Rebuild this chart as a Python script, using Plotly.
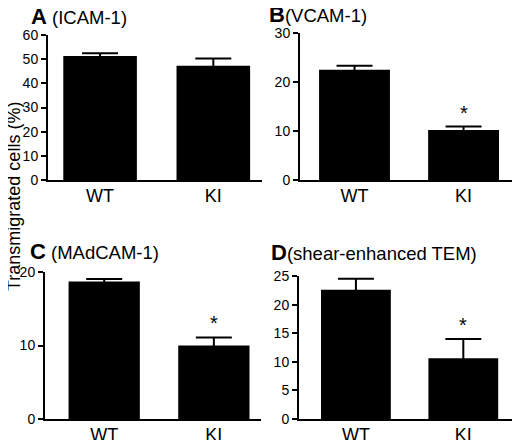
import plotly.graph_objects as go
from plotly.subplots import make_subplots

# data (mean and SEM, % transmigrated cells)
groups = ["WT", "KI"]
panels = ["A", "B", "C", "D"]
panel_names = ["(ICAM-1)", "(VCAM-1)", "(MAdCAM-1)", "(shear-enhanced TEM)"]
icam_mean = [51.3, 47.3]
icam_sem = [1.1, 3.0]
vcam_mean = [22.5, 10.2]
vcam_sem = [0.8, 0.7]
madcam_mean = [18.7, 10.0]
madcam_sem = [0.35, 1.1]
shear_mean = [22.6, 10.6]
shear_sem = [1.9, 3.4]
y_max = [60, 30, 20, 25]
y_step = [10, 10, 10, 5]
significant = [False, True, True, True]

means = [icam_mean, vcam_mean, madcam_mean, shear_mean]
sems = [icam_sem, vcam_sem, madcam_sem, shear_sem]

W, H = 520, 440
OFF = 8  # the page body has a default 8px margin
FONT = "Liberation Sans, Arial, sans-serif"


def fx(px):
    return (px - OFF) / W


def fy(py):
    return 1 - (py - OFF) / H


# panel boxes in screen pixels: (left, right, top, bottom)
boxes = [(48, 262, 35, 180), (300, 517, 33, 180),
         (45, 261, 272, 419), (299, 517, 276, 419)]
x_ranges = [[-0.46, 1.43], [-0.5, 1.49], [-0.54, 1.43], [-0.53, 1.5]]
# title positions (left x, middle y) and whether a space sits after the letter
title_pos = [(29, 16), (267, 15), (28, 251), (269, 252)]
title_space = [True, False, True, False]

fig = make_subplots(rows=2, cols=2)

for i in range(4):
    r, c = i // 2 + 1, i % 2 + 1
    fig.add_trace(go.Bar(
        x=groups, y=means[i],
        marker=dict(color="black", line=dict(width=0)),
        width=0.65,
        error_y=dict(type="data", array=sems[i], color="black",
                     thickness=2, width=18),
        showlegend=False,
    ), row=r, col=c)

    left, right, top, bottom = boxes[i]
    ax = "" if i == 0 else str(i + 1)
    fig.layout["xaxis" + ax].update(
        domain=[fx(left), fx(right)], range=x_ranges[i],
        showline=True, linecolor="black", linewidth=2,
        ticks="", showgrid=False, zeroline=False, automargin=False,
        ticklabelstandoff=-2,
        tickfont=dict(family=FONT, size=18, color="black"),
    )
    fig.layout["yaxis" + ax].update(
        domain=[fy(bottom), fy(top)], range=[0, y_max[i]],
        dtick=y_step[i], showline=True, linecolor="black", linewidth=2,
        ticks="outside", ticklen=5, tickwidth=2, tickcolor="black",
        showgrid=False, zeroline=False, automargin=False,
        tickfont=dict(family=FONT, size=14, color="black"),
    )

    # significance star above KI error bar
    if significant[i]:
        fig.add_annotation(
            x=groups[1], y=means[i][1] + sems[i][1],
            xref="x" + ax, yref="y" + ax,
            text="*", showarrow=False, yanchor="bottom", yshift=1,
            font=dict(family=FONT, size=20, color="black"),
        )

    # panel title
    tx, ty = title_pos[i]
    sep = " " if title_space[i] else ""
    fig.add_annotation(
        x=fx(tx), y=fy(ty), xref="paper", yref="paper",
        xanchor="left", yanchor="middle", showarrow=False,
        text=('<span style="font-size:22px;font-weight:bold">' + panels[i]
              + '</span><span style="font-size:18.5px">' + sep
              + panel_names[i] + '</span>'),
        font=dict(family=FONT, size=18, color="black"),
    )

fig.add_annotation(
    x=fx(14), y=fy(197), xref="paper", yref="paper",
    xanchor="center", yanchor="middle",
    text="Transmigrated cells (%)", textangle=-90, showarrow=False,
    font=dict(family=FONT, size=18, color="black"),
)

fig.update_layout(
    width=W, height=H,
    margin=dict(l=0, r=0, t=0, b=0, autoexpand=False),
    paper_bgcolor="white", plot_bgcolor="white",
    bargap=0.3,
)

fig.write_html("out.html")
